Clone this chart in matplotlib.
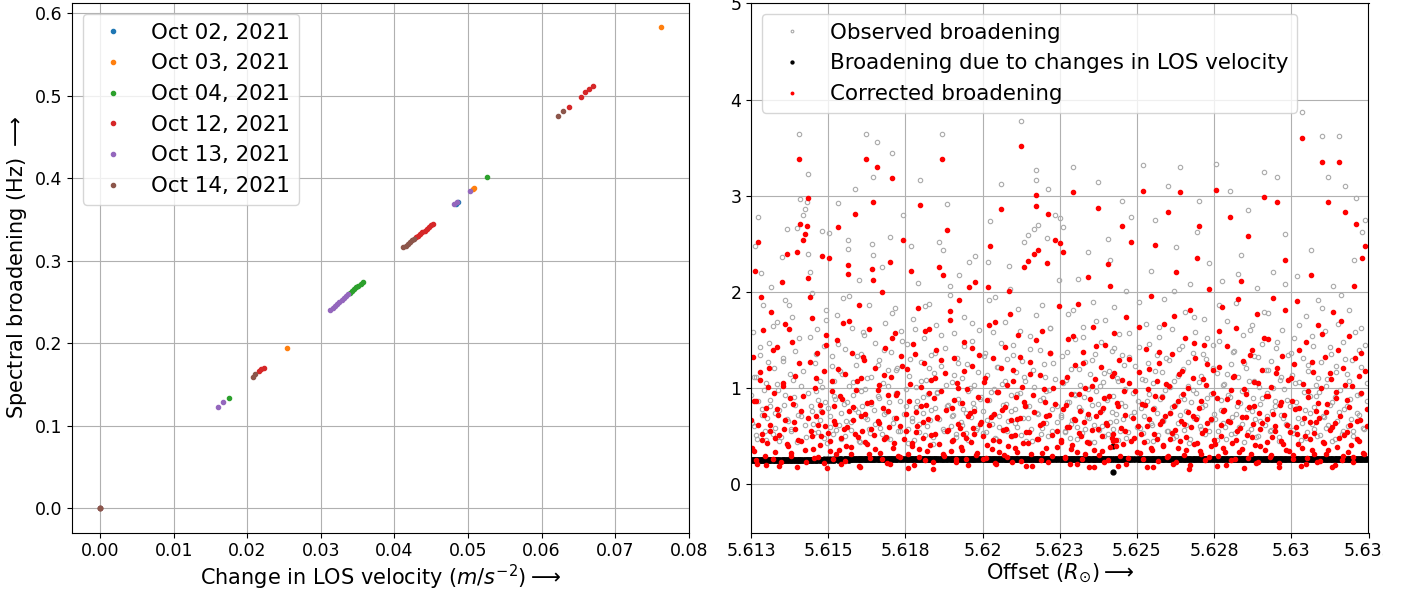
import numpy as np
import matplotlib
matplotlib.use('Agg')
import matplotlib.pyplot as plt
from matplotlib.transforms import Bbox, TransformedBbox

# Panel izquierdo: ensanchamiento vs cambio de velocidad LOS, por fecha
fechas = ['Oct 02, 2021', 'Oct 03, 2021', 'Oct 04, 2021',
          'Oct 12, 2021', 'Oct 13, 2021', 'Oct 14, 2021']

dv_oct02 = [0.0, 0.04835, 0.04865]
br_oct02 = [0.0, 0.3694, 0.3716]

dv_oct03 = [0.0, 0.02535, 0.05065, 0.05083, 0.07623]
br_oct03 = [0.0, 0.1943, 0.3878, 0.3886, 0.5830]

dv_oct04 = [0.0, 0.01750, 0.0339, 0.0342, 0.0345, 0.0348, 0.0351, 0.0354,
            0.0357, 0.05256]
br_oct04 = [0.0, 0.1341, 0.2614, 0.2636, 0.2657, 0.2679, 0.2700, 0.2722,
            0.2743, 0.4019]

dv_oct12 = [0.0, 0.02158, 0.02190, 0.02226, 0.0429, 0.0432, 0.0435, 0.0438,
            0.0441, 0.0444, 0.0447, 0.0450, 0.04525, 0.06371, 0.06531,
            0.06593, 0.06643, 0.06694]
br_oct12 = [0.0, 0.1664, 0.1685, 0.1704, 0.3285, 0.3306, 0.3327, 0.3348,
            0.3368, 0.3389, 0.3410, 0.3430, 0.3446, 0.4868, 0.4989,
            0.5046, 0.5079, 0.5119]

dv_oct13 = [0.0, 0.01605, 0.01673, 0.0313, 0.0316, 0.0319, 0.0322, 0.0325,
            0.0328, 0.0331, 0.0334, 0.0337, 0.04811, 0.04844, 0.05024]
br_oct13 = [0.0, 0.1232, 0.1285, 0.2404, 0.2428, 0.2453, 0.2477, 0.2501,
            0.2526, 0.2550, 0.2574, 0.2598, 0.3685, 0.3709, 0.3842]

dv_oct14 = [0.0, 0.02072, 0.02109, 0.0412, 0.0415, 0.0418, 0.0421, 0.0424,
            0.0427, 0.06222, 0.06294]
br_oct14 = [0.0, 0.1595, 0.1624, 0.3166, 0.3187, 0.3208, 0.3229, 0.3250,
            0.3271, 0.4755, 0.4816]

dv_series = [dv_oct02, dv_oct03, dv_oct04, dv_oct12, dv_oct13, dv_oct14]
br_series = [br_oct02, br_oct03, br_oct04, br_oct12, br_oct13, br_oct14]

# Panel derecho: ensanchamiento observado y debido a la velocidad LOS
offset = [
    5.61251, 5.61255, 5.61259, 5.61264, 5.61267, 5.61271, 5.61274, 5.61278, 5.61283, 5.61286,
    5.61290, 5.61295, 5.61299, 5.61303, 5.61308, 5.61312, 5.61316, 5.61321, 5.61325, 5.61329,
    5.61334, 5.61338, 5.61342, 5.61349, 5.61353, 5.61357, 5.61361, 5.61367, 5.61371, 5.61375,
    5.61380, 5.61384, 5.61388, 5.61392, 5.61399, 5.61403, 5.61407, 5.61408, 5.61413, 5.61419,
    5.61424, 5.61428, 5.61432, 5.61433, 5.61436, 5.61440, 5.61444, 5.61448, 5.61452, 5.61456,
    5.61460, 5.61464, 5.61468, 5.61472, 5.61476, 5.61481, 5.61485, 5.61489, 5.61493, 5.61497,
    5.61503, 5.61507, 5.61511, 5.61515, 5.61519, 5.61523, 5.61527, 5.61531, 5.61535, 5.61539,
    5.61543, 5.61547, 5.61551, 5.61555, 5.61559, 5.61563, 5.61565, 5.61569, 5.61573, 5.61577,
    5.61581, 5.61587, 5.61591, 5.61595, 5.61599, 5.61603, 5.61607, 5.61611, 5.61615, 5.61619,
    5.61623, 5.61627, 5.61631, 5.61635, 5.61638, 5.61641, 5.61645, 5.61649, 5.61653, 5.61657,
    5.61661, 5.61665, 5.61669, 5.61673, 5.61677, 5.61681, 5.61685, 5.61689, 5.61693, 5.61697,
    5.61700, 5.61704, 5.61707, 5.61711, 5.61715, 5.61719, 5.61723, 5.61731, 5.61737, 5.61743,
    5.61752, 5.61756, 5.61760, 5.61763, 5.61767, 5.61771, 5.61775, 5.61779, 5.61783, 5.61787,
    5.61791, 5.61795, 5.61798, 5.61802, 5.61806, 5.61810, 5.61814, 5.61818, 5.61822, 5.61826,
    5.61830, 5.61834, 5.61838, 5.61842, 5.61846, 5.61850, 5.61854, 5.61860, 5.61864, 5.61868,
    5.61871, 5.61875, 5.61879, 5.61885, 5.61889, 5.61893, 5.61897, 5.61901, 5.61905, 5.61909,
    5.61913, 5.61917, 5.61921, 5.61925, 5.61929, 5.61933, 5.61937, 5.61941, 5.61945, 5.61949,
    5.61953, 5.61957, 5.61961, 5.61965, 5.61969, 5.61973, 5.61977, 5.61981, 5.61989, 5.61995,
    5.62003, 5.62007, 5.62011, 5.62015, 5.62019, 5.62022, 5.62025, 5.62029, 5.62033, 5.62037,
    5.62041, 5.62045, 5.62049, 5.62053, 5.62060, 5.62064, 5.62068, 5.62072, 5.62076, 5.62080,
    5.62084, 5.62088, 5.62092, 5.62096, 5.62100, 5.62104, 5.62108, 5.62112, 5.62116, 5.62120,
    5.62124, 5.62128, 5.62131, 5.62135, 5.62139, 5.62142, 5.62146, 5.62150, 5.62154, 5.62158,
    5.62162, 5.62168, 5.62173, 5.62174, 5.62177, 5.62181, 5.62185, 5.62189, 5.62193, 5.62197,
    5.62201, 5.62204, 5.62208, 5.62212, 5.62216, 5.62220, 5.62224, 5.62228, 5.62234, 5.62242,
    5.62251, 5.62255, 5.62258, 5.62262, 5.62266, 5.62270, 5.62274, 5.62278, 5.62282, 5.62286,
    5.62290, 5.62293, 5.62297, 5.62301, 5.62305, 5.62309, 5.62313, 5.62317, 5.62321, 5.62325,
    5.62329, 5.62333, 5.62337, 5.62341, 5.62345, 5.62349, 5.62353, 5.62357, 5.62361, 5.62365,
    5.62369, 5.62374, 5.62378, 5.62382, 5.62386, 5.62390, 5.62394, 5.62398, 5.62402, 5.62406,
    5.62410, 5.62414, 5.62418, 5.62421, 5.62423, 5.62427, 5.62431, 5.62435, 5.62439, 5.62443,
    5.62447, 5.62450, 5.62454, 5.62458, 5.62462, 5.62466, 5.62470, 5.62474, 5.62480, 5.62490,
    5.62503, 5.62507, 5.62511, 5.62515, 5.62520, 5.62524, 5.62528, 5.62532, 5.62536, 5.62540,
    5.62544, 5.62548, 5.62552, 5.62556, 5.62560, 5.62564, 5.62568, 5.62572, 5.62576, 5.62580,
    5.62584, 5.62588, 5.62592, 5.62596, 5.62600, 5.62604, 5.62608, 5.62612, 5.62616, 5.62620,
    5.62624, 5.62628, 5.62632, 5.62636, 5.62640, 5.62644, 5.62648, 5.62652, 5.62656, 5.62660,
    5.62664, 5.62668, 5.62672, 5.62676, 5.62680, 5.62684, 5.62688, 5.62692, 5.62696, 5.62700,
    5.62704, 5.62708, 5.62712, 5.62716, 5.62720, 5.62724, 5.62728, 5.62733, 5.62739, 5.62745,
    5.62751, 5.62755, 5.62759, 5.62763, 5.62767, 5.62771, 5.62775, 5.62779, 5.62783, 5.62787,
    5.62791, 5.62795, 5.62800, 5.62804, 5.62808, 5.62812, 5.62816, 5.62820, 5.62824, 5.62828,
    5.62832, 5.62836, 5.62840, 5.62844, 5.62848, 5.62852, 5.62856, 5.62860, 5.62864, 5.62868,
    5.62872, 5.62876, 5.62880, 5.62884, 5.62888, 5.62892, 5.62896, 5.62900, 5.62904, 5.62910,
    5.62914, 5.62918, 5.62922, 5.62926, 5.62930, 5.62934, 5.62938, 5.62942, 5.62946, 5.62950,
    5.62955, 5.62959, 5.62963, 5.62967, 5.62971, 5.62975, 5.62980, 5.62984, 5.62990, 5.62996,
    5.63002, 5.63006, 5.63010, 5.63014, 5.63018, 5.63022, 5.63026, 5.63030, 5.63035, 5.63039,
    5.63043, 5.63047, 5.63051, 5.63055, 5.63059, 5.63063, 5.63067, 5.63071, 5.63075, 5.63079,
    5.63083, 5.63087, 5.63091, 5.63095, 5.63100, 5.63104, 5.63108, 5.63112, 5.63116, 5.63120,
    5.63124, 5.63128, 5.63132, 5.63136, 5.63140, 5.63144, 5.63148, 5.63152, 5.63155, 5.63159,
    5.63163, 5.63167, 5.63171, 5.63175, 5.63179, 5.63183, 5.63187, 5.63191, 5.63195, 5.63199,
    5.63204, 5.63210, 5.63214, 5.63218, 5.63222, 5.63226, 5.63230, 5.63235, 5.63240, 5.63246,
    # segunda pasada
    5.61253, 5.61260, 5.61266, 5.61273, 5.61280, 5.61287, 5.61293, 5.61300, 5.61306, 5.61313,
    5.61320, 5.61327, 5.61333, 5.61340, 5.61346, 5.61353, 5.61360, 5.61366, 5.61373, 5.61380,
    5.61386, 5.61393, 5.61400, 5.61406, 5.61413, 5.61420, 5.61426, 5.61433, 5.61440, 5.61446,
    5.61453, 5.61460, 5.61466, 5.61473, 5.61480, 5.61486, 5.61493, 5.61500, 5.61506, 5.61513,
    5.61520, 5.61526, 5.61533, 5.61540, 5.61546, 5.61553, 5.61560, 5.61566, 5.61573, 5.61580,
    5.61586, 5.61593, 5.61600, 5.61606, 5.61613, 5.61620, 5.61626, 5.61633, 5.61640, 5.61646,
    5.61653, 5.61660, 5.61666, 5.61673, 5.61680, 5.61686, 5.61693, 5.61700, 5.61706, 5.61713,
    5.61720, 5.61726, 5.61733, 5.61740, 5.61746, 5.61753, 5.61760, 5.61766, 5.61773, 5.61780,
    5.61786, 5.61793, 5.61800, 5.61806, 5.61813, 5.61820, 5.61826, 5.61833, 5.61840, 5.61846,
    5.61853, 5.61860, 5.61866, 5.61873, 5.61880, 5.61886, 5.61893, 5.61900, 5.61906, 5.61913,
    5.61920, 5.61926, 5.61933, 5.61940, 5.61946, 5.61953, 5.61960, 5.61966, 5.61973, 5.61980,
    5.61986, 5.61993, 5.62000, 5.62006, 5.62013, 5.62020, 5.62026, 5.62033, 5.62040, 5.62046,
    5.62053, 5.62060, 5.62066, 5.62073, 5.62080, 5.62086, 5.62093, 5.62100, 5.62106, 5.62113,
    5.62120, 5.62126, 5.62133, 5.62140, 5.62146, 5.62153, 5.62160, 5.62166, 5.62173, 5.62180,
    5.62186, 5.62193, 5.62200, 5.62206, 5.62213, 5.62220, 5.62226, 5.62233, 5.62240, 5.62246,
    5.62253, 5.62260, 5.62266, 5.62273, 5.62280, 5.62286, 5.62293, 5.62300, 5.62306, 5.62313,
    5.62320, 5.62326, 5.62333, 5.62340, 5.62346, 5.62353, 5.62360, 5.62366, 5.62373, 5.62380,
    5.62386, 5.62393, 5.62400, 5.62406, 5.62413, 5.62420, 5.62426, 5.62433, 5.62440, 5.62446,
    5.62453, 5.62460, 5.62466, 5.62473, 5.62480, 5.62486, 5.62493, 5.62500, 5.62506, 5.62513,
    5.62520, 5.62526, 5.62533, 5.62540, 5.62546, 5.62553, 5.62560, 5.62566, 5.62573, 5.62580,
    5.62586, 5.62593, 5.62600, 5.62606, 5.62613, 5.62620, 5.62626, 5.62633, 5.62640, 5.62646,
    5.62653, 5.62660, 5.62666, 5.62673, 5.62680, 5.62686, 5.62693, 5.62700, 5.62706, 5.62713,
    5.62720, 5.62726, 5.62733, 5.62740, 5.62746, 5.62753, 5.62760, 5.62766, 5.62773, 5.62780,
    5.62786, 5.62793, 5.62800, 5.62806, 5.62813, 5.62820, 5.62826, 5.62833, 5.62840, 5.62846,
    5.62853, 5.62860, 5.62866, 5.62873, 5.62880, 5.62886, 5.62893, 5.62900, 5.62906, 5.62913,
    5.62920, 5.62926, 5.62933, 5.62940, 5.62946, 5.62953, 5.62960, 5.62966, 5.62973, 5.62980,
    5.62986, 5.62993, 5.63000, 5.63006, 5.63013, 5.63020, 5.63026, 5.63033, 5.63040, 5.63046,
    5.63053, 5.63060, 5.63066, 5.63073, 5.63080, 5.63086, 5.63093, 5.63100, 5.63106, 5.63113,
    5.63120, 5.63126, 5.63133, 5.63140, 5.63146, 5.63153, 5.63160, 5.63166, 5.63173, 5.63180,
    5.63186, 5.63193, 5.63200, 5.63206, 5.63213, 5.63220, 5.63226, 5.63233, 5.63240, 5.63246,
]

observado = [
    0.93, 1.58, 0.61, 2.48, 1.12, 0.47, 2.78, 1.34, 2.20, 0.78,
    1.86, 0.55, 1.05, 0.69, 1.47, 0.88, 2.05, 0.52, 1.21, 0.74,
    1.69, 0.98, 0.45, 2.36, 1.28, 0.83, 1.92, 2.65, 0.66, 1.15,
    0.58, 1.74, 0.91, 1.39, 2.67, 0.72, 3.64, 2.97, 1.02, 2.80,
    2.86, 0.49, 2.94, 2.40, 3.23, 1.53, 0.81, 1.99, 0.63, 1.26,
    0.97, 1.62, 0.54, 1.08, 0.76, 2.63, 1.44, 0.86, 1.81, 0.43,
    2.61, 0.71, 1.33, 0.52, 1.07, 0.89, 1.76, 2.93, 0.62, 1.18,
    0.47, 1.94, 0.84, 1.41, 0.66, 2.54, 2.45, 1.02, 0.57, 1.63,
    0.93, 3.07, 1.24, 0.75, 2.12, 0.44, 1.36, 0.81, 1.55, 0.99,
    3.64, 0.68, 1.87, 0.53, 1.12, 2.50, 3.20, 0.77, 1.47, 3.56,
    0.92, 1.29, 0.59, 2.26, 1.05, 0.73, 1.68, 0.48, 1.19, 0.86,
    2.57, 1.38, 3.45, 0.64, 1.83, 0.95, 1.21, 0.55, 1.59, 2.80,
    0.82, 1.46, 0.58, 1.13, 2.48, 0.69, 1.72, 0.46, 1.01, 0.87,
    2.09, 0.63, 3.16, 1.27, 0.74, 1.52, 0.51, 1.09, 0.94, 1.88,
    0.67, 1.35, 0.42, 1.16, 0.79, 1.66, 0.96, 2.52, 1.23, 3.64,
    2.44, 0.56, 1.42, 2.91, 0.83, 1.97, 0.61, 1.06, 0.72, 1.57,
    0.49, 1.31, 0.89, 2.18, 0.65, 1.11, 0.78, 1.74, 0.53, 1.25,
    0.97, 2.31, 0.70, 1.49, 0.85, 1.03, 2.37, 0.59, 1.61, 0.91,
    0.76, 1.37, 0.54, 1.14, 2.31, 0.88, 2.74, 0.63, 1.58, 0.99,
    1.95, 0.47, 1.22, 0.71, 3.12, 1.04, 0.57, 1.69, 0.84, 1.30,
    0.66, 2.03, 0.93, 0.50, 1.45, 0.78, 1.17, 0.60, 1.82, 0.95,
    3.78, 1.28, 0.69, 2.52, 1.08, 0.45, 2.59, 0.81, 1.54, 0.58,
    1.19, 2.66, 3.27, 3.16, 0.74, 2.70, 1.40, 0.52, 1.86, 0.90,
    1.12, 0.64, 2.56, 3.07, 0.98, 1.63, 0.56, 1.26, 2.80, 0.82,
    2.77, 0.72, 1.33, 2.68, 0.55, 1.09, 0.86, 1.77, 0.48, 1.20,
    0.67, 3.30, 0.94, 1.51, 0.60, 2.14, 0.80, 1.03, 0.53, 1.64,
    0.91, 1.27, 0.70, 2.42, 0.44, 1.15, 0.83, 1.90, 0.62, 1.36,
    0.97, 3.14, 0.57, 1.48, 0.77, 1.06, 0.50, 1.71, 0.88, 2.55,
    1.18, 0.65, 1.39, 0.92, 0.58, 1.84, 0.73, 1.11, 0.46, 1.56,
    0.85, 2.95, 0.68, 1.24, 0.99, 2.01, 0.54, 1.32, 2.78, 0.75,
    0.87, 1.43, 0.59, 1.10, 3.32, 0.71, 1.67, 0.45, 1.26, 0.94,
    2.22, 0.62, 1.05, 0.79, 2.75, 1.34, 0.51, 1.53, 0.89, 1.17,
    0.66, 1.93, 0.98, 0.55, 3.10, 1.29, 0.74, 1.62, 0.48, 1.08,
    0.83, 2.47, 0.64, 1.41, 3.30, 0.92, 1.20, 0.57, 1.79, 0.76,
    1.02, 0.43, 2.08, 0.86, 1.37, 0.69, 1.58, 0.95, 2.62, 2.95,
    0.61, 1.13, 0.80, 1.72, 0.52, 1.30, 0.90, 2.30, 0.67, 1.45,
    0.73, 3.33, 1.16, 0.56, 1.49, 0.88, 2.11, 0.64, 1.04, 0.47,
    1.70, 0.93, 3.05, 1.25, 0.70, 1.38, 0.53, 1.89, 0.82, 1.12,
    0.60, 2.38, 0.97, 1.55, 0.44, 1.21, 0.78, 2.85, 1.07, 0.58,
    1.66, 0.90, 1.33, 0.68, 2.04, 0.50, 1.01, 0.84, 1.46, 3.25,
    0.62, 1.19, 0.95, 1.78, 0.55, 1.28, 0.76, 2.21, 0.87, 1.42,
    3.20, 0.49, 1.09, 0.72, 1.60, 0.99, 2.60, 0.63, 1.35, 0.81,
    1.14, 0.57, 1.52, 0.86, 2.17, 0.69, 1.06, 0.46, 3.87, 1.31,
    0.77, 1.75, 0.54, 1.18, 0.92, 2.44, 0.63, 1.44, 0.80, 1.03,
    0.50, 1.92, 0.96, 1.27, 3.62, 0.71, 1.59, 0.59, 1.10, 3.20,
    0.83, 1.36, 0.45, 2.06, 0.91, 1.23, 0.66, 1.67, 3.62, 0.98,
    0.52, 1.48, 0.78, 3.10, 1.15, 0.61, 1.81, 0.89, 1.29, 0.55,
    2.33, 2.98, 0.74, 1.40, 0.94, 1.63, 2.62, 0.58, 2.75, 1.05,
    # segunda pasada
    0.64, 1.12, 0.51, 0.87, 1.43, 0.72, 0.98, 0.46, 1.27, 0.81,
    1.65, 0.59, 1.04, 0.77, 0.49, 1.31, 0.93, 0.68, 1.87, 0.55,
    1.09, 0.83, 0.44, 1.52, 0.71, 1.18, 0.62, 0.95, 2.21, 0.76,
    0.53, 1.36, 0.88, 0.67, 1.01, 0.48, 1.71, 0.79, 0.60, 1.23,
    0.92, 0.57, 1.46, 0.74, 1.15, 0.50, 0.86, 1.96, 0.65, 1.06,
    0.78, 1.33, 0.45, 0.97, 1.58, 0.70, 1.11, 0.58, 0.84, 2.38,
    0.63, 1.24, 0.90, 0.52, 1.40, 0.75, 1.02, 0.47, 1.78, 0.69,
    1.19, 0.56, 0.87, 1.49, 0.73, 0.99, 0.43, 1.30, 0.66, 1.62,
    0.80, 0.54, 1.08, 0.91, 1.85, 0.61, 1.21, 0.77, 0.49, 1.37,
    0.95, 0.68, 1.55, 0.58, 1.03, 0.82, 2.06, 0.71, 1.14, 0.52,
    1.26, 0.85, 0.62, 1.44, 0.74, 0.46, 1.00, 1.68, 0.79, 0.57,
    1.17, 0.89, 0.53, 1.33, 0.67, 1.92, 0.96, 0.72, 0.48, 1.22,
    0.60, 1.47, 0.83, 1.07, 0.55, 2.27, 0.76, 1.34, 0.64, 0.94,
    1.59, 0.51, 1.12, 0.81, 0.69, 1.41, 0.45, 1.01, 1.76, 0.73,
    0.88, 0.59, 1.25, 0.97, 0.50, 1.63, 0.78, 1.10, 0.65, 2.12,
    0.70, 1.05, 0.54, 1.38, 0.86, 0.63, 1.81, 0.93, 0.47, 1.20,
    0.77, 1.53, 0.58, 0.99, 0.69, 1.29, 0.44, 1.70, 0.84, 1.02,
    0.61, 1.16, 0.90, 0.52, 2.33, 0.75, 1.42, 0.66, 1.08, 0.56,
    1.35, 0.82, 0.48, 1.57, 0.71, 0.95, 1.23, 0.60, 1.90, 0.79,
    0.53, 1.09, 0.87, 1.46, 0.64, 0.45, 1.18, 0.74, 1.64, 0.92,
    0.67, 1.31, 0.56, 1.01, 0.80, 2.01, 0.50, 1.13, 0.72, 1.44,
    0.89, 0.62, 1.27, 0.47, 0.98, 1.74, 0.70, 1.06, 0.58, 1.36,
    0.83, 1.52, 0.55, 0.94, 1.21, 0.68, 0.46, 1.86, 0.77, 1.03,
    0.60, 1.15, 0.91, 0.52, 1.39, 0.73, 2.19, 0.85, 0.63, 1.26,
    0.97, 0.54, 1.61, 0.76, 1.08, 0.49, 1.32, 0.66, 0.90, 1.79,
    0.71, 1.19, 0.57, 1.00, 0.82, 1.48, 0.45, 1.12, 0.69, 2.08,
    0.88, 0.61, 1.37, 0.53, 1.05, 0.79, 1.66, 0.64, 0.96, 0.48,
    1.24, 0.74, 1.54, 0.58, 0.92, 1.11, 0.51, 1.83, 0.70, 1.02,
    0.62, 1.43, 0.86, 0.47, 1.17, 0.75, 1.97, 0.56, 1.30, 0.81,
    1.07, 0.68, 0.50, 1.58, 0.93, 0.72, 1.22, 0.59, 1.45, 0.87,
]

los = [
    0.257, 0.257, 0.258, 0.257, 0.258, 0.257, 0.257, 0.258, 0.257, 0.258,
    0.258, 0.257, 0.257, 0.258, 0.257, 0.258, 0.258, 0.257, 0.258, 0.257,
    0.257, 0.258, 0.258, 0.257, 0.258, 0.258, 0.257, 0.258, 0.258, 0.257,
    0.258, 0.258, 0.257, 0.258, 0.258, 0.258, 0.257, 0.258, 0.258, 0.258,
    0.258, 0.258, 0.258, 0.257, 0.258, 0.258, 0.258, 0.258, 0.258, 0.258,
    0.258, 0.258, 0.259, 0.258, 0.258, 0.258, 0.259, 0.258, 0.258, 0.259,
    0.258, 0.259, 0.258, 0.259, 0.258, 0.259, 0.259, 0.258, 0.259, 0.259,
    0.259, 0.258, 0.259, 0.259, 0.259, 0.258, 0.259, 0.259, 0.259, 0.259,
    0.259, 0.259, 0.259, 0.260, 0.259, 0.259, 0.259, 0.259, 0.260, 0.259,
    0.259, 0.260, 0.259, 0.259, 0.260, 0.259, 0.260, 0.259, 0.260, 0.260,
    0.259, 0.260, 0.260, 0.259, 0.260, 0.260, 0.260, 0.259, 0.260, 0.260,
    0.260, 0.260, 0.260, 0.260, 0.260, 0.260, 0.260, 0.260, 0.260, 0.260,
    0.260, 0.260, 0.260, 0.261, 0.260, 0.260, 0.260, 0.261, 0.260, 0.260,
    0.261, 0.260, 0.260, 0.261, 0.260, 0.261, 0.260, 0.261, 0.261, 0.260,
    0.261, 0.261, 0.260, 0.261, 0.261, 0.260, 0.261, 0.261, 0.261, 0.261,
    0.261, 0.261, 0.261, 0.261, 0.261, 0.261, 0.261, 0.261, 0.261, 0.261,
    0.261, 0.261, 0.261, 0.262, 0.261, 0.261, 0.261, 0.262, 0.261, 0.261,
    0.262, 0.261, 0.261, 0.262, 0.261, 0.262, 0.261, 0.262, 0.262, 0.261,
    0.262, 0.262, 0.261, 0.262, 0.262, 0.262, 0.262, 0.261, 0.262, 0.262,
    0.262, 0.262, 0.262, 0.262, 0.262, 0.262, 0.262, 0.262, 0.262, 0.262,
    0.262, 0.262, 0.263, 0.262, 0.262, 0.262, 0.263, 0.262, 0.262, 0.263,
    0.262, 0.263, 0.262, 0.263, 0.262, 0.263, 0.263, 0.262, 0.263, 0.263,
    0.263, 0.262, 0.263, 0.263, 0.263, 0.263, 0.262, 0.263, 0.263, 0.263,
    0.263, 0.263, 0.263, 0.263, 0.263, 0.263, 0.263, 0.263, 0.263, 0.263,
    0.263, 0.263, 0.263, 0.263, 0.264, 0.263, 0.263, 0.263, 0.264, 0.263,
    0.263, 0.264, 0.263, 0.264, 0.263, 0.264, 0.263, 0.264, 0.264, 0.263,
    0.264, 0.264, 0.263, 0.264, 0.264, 0.264, 0.264, 0.263, 0.264, 0.264,
    0.264, 0.264, 0.264, 0.264, 0.264, 0.264, 0.264, 0.264, 0.264, 0.264,
    0.264, 0.264, 0.264, 0.396, 0.131, 0.264, 0.264, 0.265, 0.264, 0.264,
    0.265, 0.264, 0.264, 0.265, 0.264, 0.265, 0.264, 0.265, 0.265, 0.264,
    0.265, 0.265, 0.264, 0.265, 0.265, 0.265, 0.265, 0.264, 0.265, 0.265,
    0.265, 0.265, 0.265, 0.265, 0.265, 0.265, 0.265, 0.265, 0.265, 0.265,
    0.265, 0.265, 0.265, 0.266, 0.265, 0.265, 0.265, 0.266, 0.265, 0.265,
    0.266, 0.265, 0.265, 0.266, 0.265, 0.266, 0.265, 0.266, 0.266, 0.265,
    0.266, 0.266, 0.265, 0.266, 0.266, 0.266, 0.266, 0.265, 0.266, 0.266,
    0.266, 0.266, 0.266, 0.266, 0.266, 0.266, 0.266, 0.266, 0.266, 0.266,
    0.266, 0.266, 0.266, 0.266, 0.267, 0.266, 0.266, 0.266, 0.267, 0.266,
    0.266, 0.267, 0.266, 0.267, 0.266, 0.267, 0.266, 0.267, 0.267, 0.266,
    0.267, 0.267, 0.266, 0.267, 0.267, 0.267, 0.267, 0.266, 0.267, 0.267,
    0.267, 0.267, 0.267, 0.267, 0.267, 0.267, 0.267, 0.267, 0.267, 0.267,
    0.267, 0.267, 0.267, 0.268, 0.267, 0.267, 0.267, 0.268, 0.267, 0.267,
    0.268, 0.267, 0.267, 0.268, 0.267, 0.268, 0.267, 0.268, 0.268, 0.267,
    0.268, 0.268, 0.267, 0.268, 0.268, 0.268, 0.268, 0.267, 0.268, 0.268,
    0.268, 0.268, 0.268, 0.268, 0.268, 0.268, 0.268, 0.268, 0.268, 0.268,
    0.268, 0.268, 0.268, 0.269, 0.268, 0.268, 0.268, 0.269, 0.268, 0.268,
    0.269, 0.268, 0.268, 0.269, 0.268, 0.269, 0.268, 0.269, 0.269, 0.268,
    0.269, 0.269, 0.268, 0.269, 0.269, 0.269, 0.269, 0.268, 0.269, 0.269,
    0.269, 0.269, 0.269, 0.269, 0.269, 0.269, 0.269, 0.269, 0.269, 0.269,
    # segunda pasada
    0.257, 0.257, 0.257, 0.257, 0.257, 0.257, 0.257, 0.257, 0.257, 0.257,
    0.257, 0.258, 0.257, 0.258, 0.257, 0.258, 0.258, 0.257, 0.258, 0.258,
    0.258, 0.258, 0.258, 0.258, 0.258, 0.258, 0.258, 0.258, 0.258, 0.258,
    0.258, 0.258, 0.258, 0.258, 0.258, 0.258, 0.258, 0.258, 0.258, 0.258,
    0.258, 0.259, 0.258, 0.259, 0.258, 0.259, 0.259, 0.258, 0.259, 0.259,
    0.259, 0.259, 0.259, 0.259, 0.259, 0.259, 0.259, 0.259, 0.259, 0.259,
    0.259, 0.259, 0.259, 0.259, 0.259, 0.259, 0.259, 0.259, 0.259, 0.259,
    0.259, 0.260, 0.259, 0.260, 0.259, 0.260, 0.260, 0.259, 0.260, 0.260,
    0.260, 0.260, 0.260, 0.260, 0.260, 0.260, 0.260, 0.260, 0.260, 0.260,
    0.260, 0.260, 0.260, 0.260, 0.260, 0.260, 0.260, 0.260, 0.260, 0.260,
    0.260, 0.261, 0.260, 0.261, 0.260, 0.261, 0.261, 0.260, 0.261, 0.261,
    0.261, 0.261, 0.261, 0.261, 0.261, 0.261, 0.261, 0.261, 0.261, 0.261,
    0.261, 0.261, 0.261, 0.261, 0.261, 0.261, 0.261, 0.261, 0.261, 0.261,
    0.261, 0.262, 0.261, 0.262, 0.261, 0.262, 0.262, 0.261, 0.262, 0.262,
    0.262, 0.262, 0.262, 0.262, 0.262, 0.262, 0.262, 0.262, 0.262, 0.262,
    0.262, 0.263, 0.262, 0.263, 0.262, 0.263, 0.263, 0.262, 0.263, 0.263,
    0.263, 0.263, 0.263, 0.263, 0.263, 0.263, 0.263, 0.263, 0.263, 0.263,
    0.263, 0.263, 0.263, 0.263, 0.263, 0.263, 0.263, 0.263, 0.263, 0.263,
    0.263, 0.264, 0.263, 0.264, 0.263, 0.264, 0.264, 0.263, 0.264, 0.264,
    0.264, 0.264, 0.264, 0.264, 0.264, 0.264, 0.264, 0.264, 0.264, 0.264,
    0.264, 0.264, 0.264, 0.264, 0.264, 0.264, 0.264, 0.264, 0.264, 0.264,
    0.264, 0.265, 0.264, 0.265, 0.264, 0.265, 0.265, 0.264, 0.265, 0.265,
    0.265, 0.265, 0.265, 0.265, 0.265, 0.265, 0.265, 0.265, 0.265, 0.265,
    0.265, 0.266, 0.265, 0.266, 0.265, 0.266, 0.266, 0.265, 0.266, 0.266,
    0.266, 0.266, 0.266, 0.266, 0.266, 0.266, 0.266, 0.266, 0.266, 0.266,
    0.266, 0.266, 0.266, 0.266, 0.266, 0.266, 0.266, 0.266, 0.266, 0.266,
    0.266, 0.267, 0.266, 0.267, 0.266, 0.267, 0.267, 0.266, 0.267, 0.267,
    0.267, 0.267, 0.267, 0.267, 0.267, 0.267, 0.267, 0.267, 0.267, 0.267,
    0.267, 0.268, 0.267, 0.268, 0.267, 0.268, 0.268, 0.267, 0.268, 0.268,
    0.268, 0.268, 0.268, 0.268, 0.268, 0.268, 0.268, 0.268, 0.268, 0.268,
]

offset_ticks = [5.6125, 5.615, 5.6175, 5.62, 5.6225, 5.625, 5.6275, 5.63, 5.6325]
offset_labels = ['5.613', '5.615', '5.618', '5.62', '5.623', '5.625', '5.628',
                 '5.63', '5.633']

offset = np.array(offset)
observado = np.array(observado)
los = np.array(los)
corregido = observado - los

fig = plt.figure(figsize=(14.16, 5.92), dpi=100)
ax1 = fig.add_axes([72.3 / 1416, 1 - 532.5 / 592, 616.4 / 1416, 529.1 / 592])
ax2 = fig.add_axes([751 / 1416, 1 - 532.5 / 592, 617.5 / 1416, 529.1 / 592])

for dv, br, fecha in zip(dv_series, br_series, fechas):
    ax1.plot(dv, br, '.', label=fecha)
ax1.set_xlim(-0.0038, 0.0800)
ax1.set_ylim(-0.0292, 0.6122)
ax1.grid(True)
ax1.tick_params(labelsize=12.5)
ax1.set_xlabel(r'Change in LOS velocity ($m/s^{-2}$)$\longrightarrow$',
               fontsize=15, labelpad=2)
ax1.set_ylabel(r'Spectral broadening (Hz) $\longrightarrow$', fontsize=15)
ax1.legend(loc='upper left', fontsize=15.4)

ax2.plot(offset, observado, 'o', ms=3.2, mfc='none', mec='darkgray',
         mew=0.8, label='Observed broadening')
ax2.plot(offset, los, '.', ms=7, color='black',
         label='Broadening due to changes in LOS velocity')
ax2.plot(offset, corregido, '.', color='red', label='Corrected broadening')
ax2.set_xlim(5.6125, 5.6325)
ax2.set_ylim(-0.5, 5)
ax2.set_xticks(offset_ticks)
ax2.set_xticklabels(offset_labels)
ax2.grid(True)
ax2.tick_params(labelsize=12.5)
ax2.set_xlabel(r'Offset ($R_{\odot}$)$\longrightarrow$', fontsize=15,
               labelpad=1)
ax2.legend(loc='upper left', fontsize=15.4, markerscale=0.6)

# la última etiqueta aparece cortada en el original
ultima = ax2.get_xticklabels()[-1]
ultima.set_clip_box(TransformedBbox(Bbox([[0, 0], [1383 / 1416, 1]]),
                                    fig.transFigure))
ultima.set_clip_on(True)

fig.savefig('out.png', dpi=100)
